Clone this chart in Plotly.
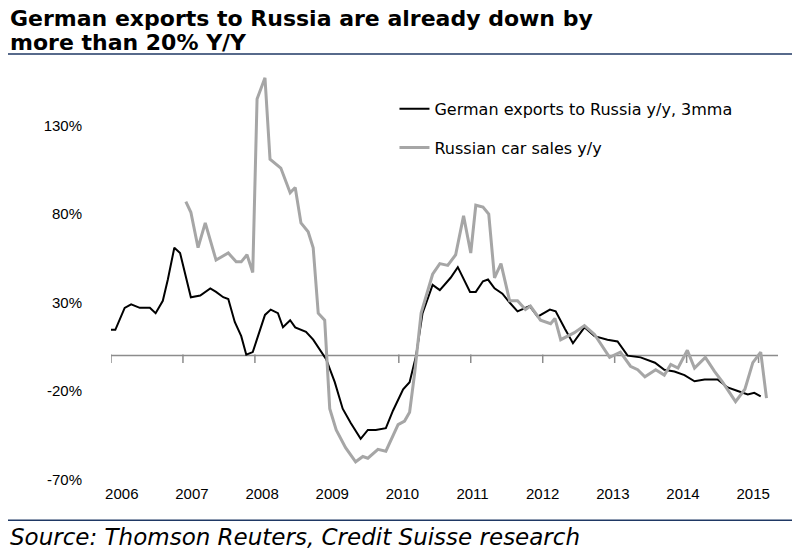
import plotly.graph_objects as go

exp_x = [2006.00,2006.06,2006.19,2006.28,2006.40,2006.54,2006.62,2006.72,2006.79,2006.88,2006.96,
         2007.03,2007.11,2007.24,2007.38,2007.46,2007.56,2007.63,2007.72,2007.81,2007.88,2007.97,
         2008.04,2008.14,2008.22,2008.32,2008.39,2008.49,2008.56,2008.71,2008.81,2008.92,2008.99,
         2009.11,2009.22,2009.33,2009.47,2009.57,2009.68,2009.82,2009.92,
         2010.06,2010.15,2010.24,2010.33,2010.47,2010.57,2010.72,2010.82,2010.99,
         2011.07,2011.17,2011.24,2011.33,2011.44,2011.54,2011.65,2011.82,2011.93,
         2012.10,2012.18,2012.31,2012.42,2012.58,2012.72,2012.90,
         2013.04,2013.18,2013.36,2013.56,2013.69,2013.83,2013.97,
         2014.11,2014.25,2014.43,2014.57,2014.71,2014.85,2014.94,2015.03]
exp_y = [14.6,14.6,27,29,27,27,24,31,43,61,58,
         47,33,34,38,36,33,32,19,11,0.5,2,
         11,23,26,24,16,20,16,13.5,9,2,-2,
         -15,-30,-38,-47,-42,-42,-41,-31,
         -19,-15,0,24,40,37,44,50,36,
         36,42,43,38,35,30,25,28,22,
         26,25,15,7,16,11,9,
         8,0,-1,-4,-8,-9,-11,
         -14.5,-13.5,-13.5,-18,-20,-22,-21,-23]

car_x = [2007.04,2007.11,2007.21,2007.31,2007.46,2007.63,2007.74,2007.81,2007.89,2007.97,
         2008.03,2008.14,2008.21,2008.36,2008.49,2008.56,2008.64,2008.74,2008.81,2008.88,2008.97,
         2009.04,2009.13,2009.26,2009.40,2009.50,2009.57,2009.71,2009.82,2009.99,
         2010.08,2010.15,2010.22,2010.31,2010.47,2010.57,2010.68,2010.79,2010.90,2011.00,
         2011.07,2011.17,2011.25,2011.33,2011.42,2011.54,2011.65,2011.76,2011.83,2011.97,
         2012.11,2012.17,2012.25,2012.44,2012.58,2012.72,2012.93,
         2013.08,2013.22,2013.32,2013.42,2013.57,2013.69,2013.78,2013.88,
         2014.01,2014.11,2014.26,2014.39,2014.50,2014.68,2014.81,2014.92,2015.03,2015.11]
car_y = [87,81,61,75,54,58,53,53,57,47,
         145,157,111,106,92,95,75,70,61,24,20,
         -30,-42,-52,-60,-57,-58,-53,-54,-39,
         -37,-32,-10,24,46,52,51,57,79,58,
         85,84,80,44,52,31,31,26,28,20,
         18,21,9,13,17,12,-1,
         2,-6,-8,-12,-8,-11,-5,-7,
         3,-7,-1,-9,-15,-26,-19,-4,2,-24]

years = list(range(2006, 2016))
ytick_vals = [-70, -20, 30, 80, 130]
ytick_text = ["-70%", "-20%", "30%", "80%", "130%"]
label_pos = [2006.15 + 0.975 * i for i in range(len(years))]
title_lines = ["German exports to Russia are already down by", "more than 20% Y/Y"]

FONT = "Liberation Sans, Arial, sans-serif"
WIDE = "DejaVu Sans, sans-serif"
fig = go.Figure()
fig.add_trace(go.Scatter(x=[years[0], 2015.27], y=[0, 0], mode="lines",
                         line=dict(color="#8c8c8c", width=1.5), showlegend=False, hoverinfo="skip"))
fig.add_trace(go.Scatter(x=years, y=[-1.8]*len(years), mode="markers",
                         marker=dict(symbol="line-ns", size=6, line=dict(color="#8c8c8c", width=1.5)),
                         showlegend=False, hoverinfo="skip"))
fig.add_trace(go.Scatter(x=exp_x, y=exp_y, mode="lines", name="German exports to Russia y/y, 3mma",
                         line=dict(color="black", width=2), legendgroup="a"))
fig.add_trace(go.Scatter(x=car_x, y=car_y, mode="lines", name="Russian car sales y/y",
                         line=dict(color="#a6a6a6", width=3), legendgroup="b"))

fig.update_layout(
    width=800, height=552, plot_bgcolor="white", paper_bgcolor="white",
    margin=dict(l=103, r=30, t=61, b=77),
    font=dict(family=FONT, size=15, color="black"),
    legend=dict(x=0.425, y=0.945, xanchor="left", yanchor="top", traceorder="grouped",
                tracegroupgap=15, font=dict(size=16, family=WIDE), itemwidth=30,
                bgcolor="rgba(0,0,0,0)"),
    xaxis=dict(range=[2006, 2015.27], tickvals=label_pos, ticktext=[str(y) for y in years],
               showgrid=False, zeroline=False, showline=False, ticks="",
               tickfont=dict(size=15)),
    yaxis=dict(range=[-72, 162], tickvals=ytick_vals, ticktext=ytick_text, showgrid=False,
               zeroline=False, showline=False, ticks="", ticklabelstandoff=28, tickfont=dict(size=15)),
)
for i, line in enumerate(title_lines):
    fig.add_annotation(xref="paper", yref="paper", x=-0.155, y=(475 - 11 - 24 * i) / 414,
                       xanchor="left", yanchor="middle", text="<b>" + line + "</b>",
                       showarrow=False, align="left", font=dict(size=22, family=WIDE, color="black"))
fig.add_annotation(xref="paper", yref="paper", x=-0.155, y=(475 - 529) / 414, xanchor="left",
                   yanchor="middle", text="<i>Source: Thomson Reuters, Credit Suisse research</i>",
                   showarrow=False, align="left", font=dict(size=23, family=WIDE, color="black"))
fig.add_shape(type="line", xref="paper", yref="paper", x0=-0.155, x1=1.05, y0=1.036, y1=1.036,
              line=dict(color="#1f3864", width=1.5))
fig.add_shape(type="line", xref="paper", yref="paper", x0=-0.155, x1=1.05, y0=-0.09, y1=-0.09,
              line=dict(color="#1f3864", width=1.5))
fig.write_html("out.html")
